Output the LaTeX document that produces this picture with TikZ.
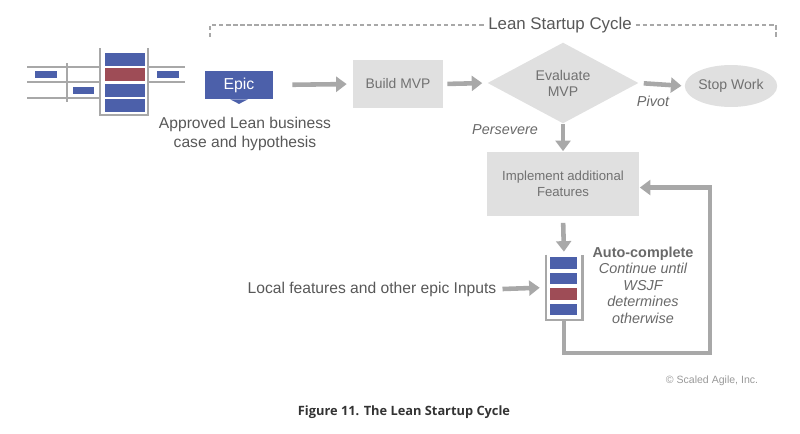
\documentclass[tikz,border=0pt]{standalone}
\usepackage{fontspec}
\setmainfont{Liberation Sans}
\newfontfamily\captionfont{Open Sans}
\usetikzlibrary{shapes.geometric, arrows.meta, positioning, calc}
\definecolor{epicblue}{RGB}{76, 96, 170}
\definecolor{epicred}{RGB}{158, 76, 86}
\definecolor{flowgray}{RGB}{168, 168, 168}
\definecolor{boxgray}{RGB}{224, 224, 224}
\definecolor{textgray}{RGB}{88, 88, 88}

\begin{document}
\begin{tikzpicture}[x=0.02cm, y=-0.02cm,
  flow/.style={line width=2.6pt, flowgray, -{Triangle[length=6pt, width=8.5pt]}},
  stepbox/.style={fill=boxgray, text=textgray!85, align=center, inner sep=0pt},
  iconline/.style={line width=1.3pt, flowgray},
  note/.style={text=textgray!90, font=\fontsize{8.2}{9.4}\selectfont\itshape}]
  \useasboundingbox (0,0) rectangle (800,433);

  % Cycle bracket
  \node[text=textgray, font=\fontsize{9.6}{11}\selectfont, fill=white, inner sep=2pt] (cycle) at (560,25) {Lean Startup Cycle};
  \coordinate (bl) at (210,37);
  \coordinate (br) at (776,37);
  \draw[flowgray, line width=0.6pt, dash pattern=on 2.5pt off 1.5pt] (bl) |- (cycle.west);
  \draw[flowgray, line width=0.6pt, dash pattern=on 2.5pt off 1.5pt] (cycle.east) -| (br);

  % Portfolio icon
  \foreach \y in {67,82,98}
    \draw[iconline] (27,\y) -- (100,\y);
  \foreach \y in {67,82}
    \draw[iconline] (148,\y) -- (185,\y);
  \draw[iconline] (67,63) -- (67,102);
  \draw[iconline] (100,48) -- (100,115) -- (148,115) -- (148,48);
  \fill[epicblue] (35,71) rectangle (57,78);
  \fill[epicblue] (73,87) rectangle (94,94);
  \fill[epicblue] (157,71) rectangle (179,78);
  \foreach \i/\c in {0/epicblue, 1/epicred, 2/epicblue, 3/epicblue}
    \fill[\c] (105,53+15.3*\i) rectangle (145,66+15.3*\i);

  % Epic and its hypothesis
  \node[fill=epicblue, text=white, minimum width=1.36cm, minimum height=0.56cm, inner sep=0pt,
        font=\fontsize{9}{10}\selectfont] (epic) at (239,85) {Epic};
  \fill[epicblue] ([xshift=-5pt]epic.south) -- ([xshift=5pt]epic.south) -- ([yshift=-2.6pt]epic.south) -- cycle;
  \node[text=textgray, align=center, font=\fontsize{8.9}{10.4}\selectfont] (hypo) at (245,134)
    {Approved Lean business\\case and hypothesis};

  % Build, evaluate, stop
  \node[stepbox, minimum width=1.8cm, minimum height=0.96cm, font=\fontsize{7.9}{9}\selectfont] (build) at (398,84) {Build MVP};
  \node[stepbox, diamond, minimum width=3.02cm, minimum height=1.34cm, font=\fontsize{8}{9.1}\selectfont] (eval) at (563,83) {Evaluate\\MVP};
  \node[stepbox, ellipse, minimum width=1.82cm, minimum height=0.84cm, font=\fontsize{8}{9}\selectfont] (stop) at (731,86) {Stop Work};
  \node[stepbox, minimum width=3.06cm, minimum height=1.3cm, font=\fontsize{7.5}{9.1}\selectfont] (impl) at (563,184) {Implement additional\\Features};

  \draw[flow, shorten <=10.8pt, shorten >=3.4pt] (epic.east) -- (build.west);
  \draw[flow, shorten <=2.3pt, shorten >=2.8pt] (build.west -| build.east) -- (eval.west);
  \draw[flow, shorten <=2.8pt, shorten >=1.7pt] (eval.east) -- (stop.west);
  \draw[flow, shorten <=0pt, shorten >=0pt] (eval.south) -- (impl.north);
  \node[note] (pivot) at (653,101) {Pivot};
  \node[note] (persevere) at (505,130) {Persevere};

  % Team backlog
  \node[minimum width=0.72cm, minimum height=1.3cm, inner sep=0pt] (queue) at (564,287.5) {};
  \draw[iconline] (queue.north west) -- (queue.south west) -- (queue.south east) -- (queue.north east);
  \foreach \i/\c in {0/epicblue, 1/epicblue, 2/epicred, 3/epicblue}
    \fill[\c] (550,257+15.6*\i) rectangle (577,268.5+15.6*\i);
  \draw[flow, shorten <=3.4pt, shorten >=1.7pt] (impl.south) -- (queue.north);

  \node[text=textgray, font=\fontsize{8.9}{10.4}\selectfont] (local) at (372,289) {Local features and other epic Inputs};
  \draw[flow, shorten >=3.4pt] (local.east) -- (queue.west);

  \node[note, align=center] (auto) at (643,285)
    {{\upshape\bfseries Auto-complete}\\Continue until\\WSJF\\determines\\otherwise};

  % Loop back
  \coordinate (loop) at (710,353);
  \draw[line width=2.3pt, flowgray, -{Triangle[length=6pt, width=8.5pt]}]
    (queue.south) |- (loop) |- ([yshift=-2pt]impl.east);

  % Credits
  \node[text=gray!80, font=\fontsize{6}{7}\selectfont] (credit) at (712,381) {\textcopyright{} Scaled Agile, Inc.};
  \node[text=black!80, font=\captionfont\bfseries\fontsize{7.3}{8.5}\selectfont] (caption) at (404,412) {Figure 11. The Lean Startup Cycle};
\end{tikzpicture}
\end{document}
